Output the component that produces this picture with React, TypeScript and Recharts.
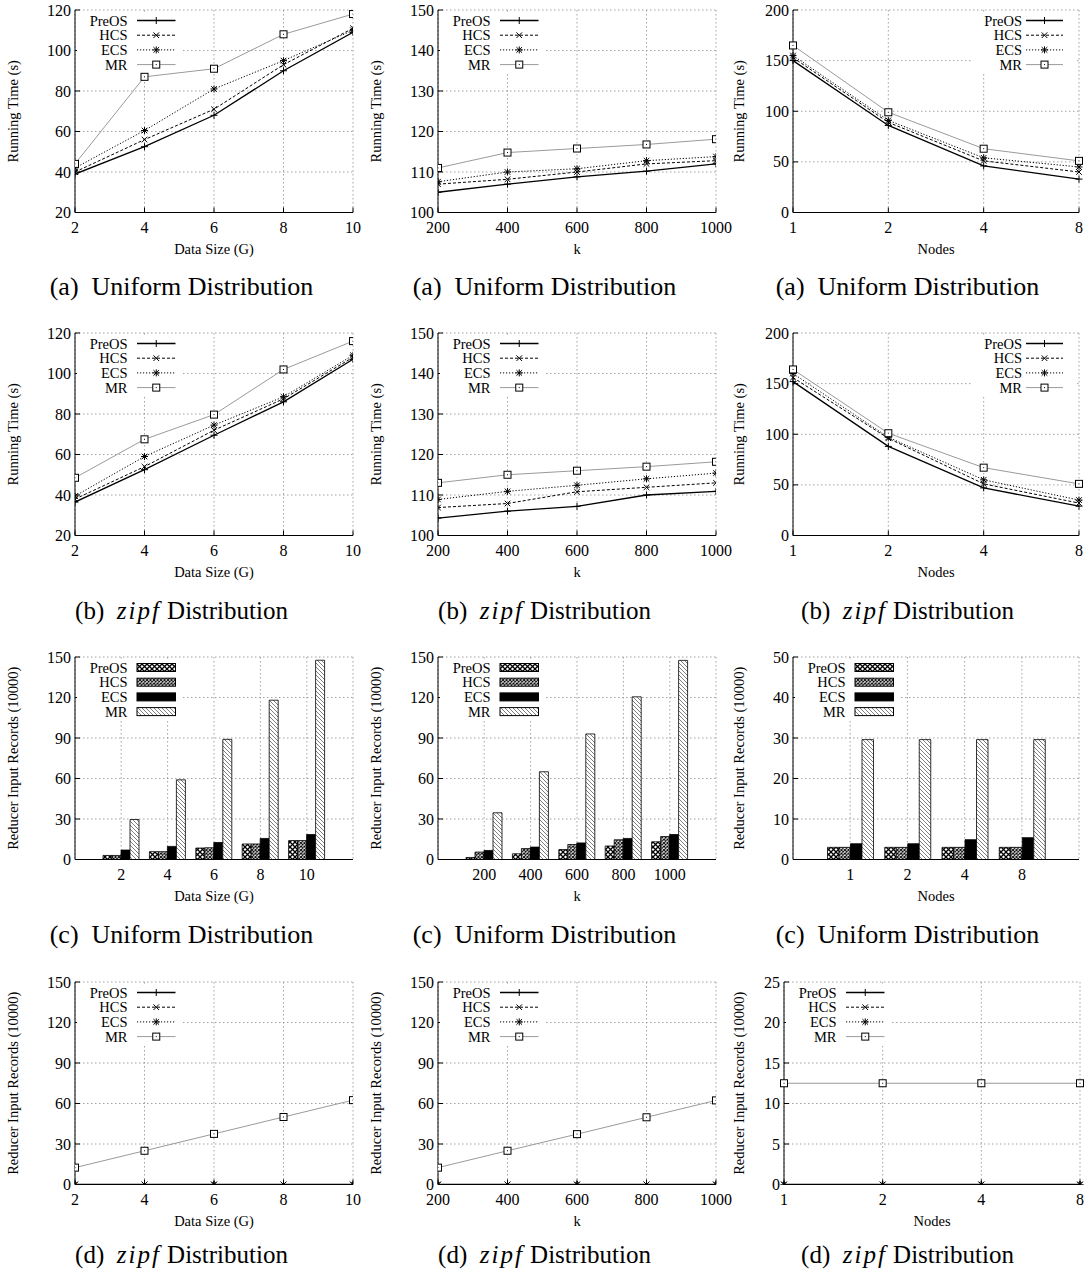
import React from 'react';
import { LineChart, Line, BarChart, Bar, XAxis, YAxis, CartesianGrid, Legend } from 'recharts';

const FONT = "'Liberation Serif', 'Times New Roman', Times, serif";

// x categories
const dataSizes = [2, 4, 6, 8, 10];
const kValues = [200, 400, 600, 800, 1000];
const nodeCounts = ['1', '2', '4', '8'];
const seriesNames = ['PreOS', 'HCS', 'ECS', 'MR'];

// (a) running time, uniform distribution
const uSizePreOS = [39, 52.5, 68, 90, 109];
const uSizeHCS = [40, 56, 71, 93, 111];
const uSizeECS = [42, 60.5, 81, 95, 110];
const uSizeMR = [44, 87, 91, 108, 118];

const uKPreOS = [105, 107, 108.8, 110.2, 112];
const uKHCS = [107, 108.2, 110, 112, 112.8];
const uKECS = [107.6, 110, 110.8, 112.8, 113.8];
const uKMR = [111, 114.8, 115.8, 116.8, 118.1];

const uNodePreOS = [150, 86, 46, 33];
const uNodeHCS = [153, 89, 51, 40];
const uNodeECS = [155, 91, 54, 45];
const uNodeMR = [165, 99, 63, 51];

// (b) running time, zipf distribution
const zSizePreOS = [36.5, 52.5, 69.5, 86, 107];
const zSizeHCS = [38, 54, 72, 87.5, 108];
const zSizeECS = [39.5, 59, 74.5, 88.5, 109];
const zSizeMR = [48.5, 67.5, 79.7, 102, 116];

const zKPreOS = [104.3, 106, 107.2, 110, 110.9];
const zKHCS = [106.9, 107.9, 110.8, 111.9, 113];
const zKECS = [108.9, 110.9, 112.4, 114, 115.4];
const zKMR = [113, 115, 116, 117, 118.2];

const zNodePreOS = [152, 88, 47, 29];
const zNodeHCS = [156, 96, 51, 32];
const zNodeECS = [160, 97, 55, 35];
const zNodeMR = [164, 101, 67, 51];

// (c) reducer input records, uniform distribution
const uSizeRecPreOS = [3, 5.8, 8.5, 11.5, 14];
const uSizeRecHCS = [3, 5.8, 8.7, 11.5, 14];
const uSizeRecECS = [7, 9.7, 12.6, 15.6, 18.5];
const uSizeRecMR = [29.6, 59, 89, 118, 147.6];

const uKRecPreOS = [1.5, 4.2, 7.4, 10, 13.1];
const uKRecHCS = [5.5, 8.1, 11.1, 14.6, 17];
const uKRecECS = [6.7, 9.2, 12.3, 15.6, 18.5];
const uKRecMR = [34.6, 65, 93, 120.5, 147.5];

const uNodeRecPreOS = [3, 3, 3, 3];
const uNodeRecHCS = [3, 3, 3, 3];
const uNodeRecECS = [3.9, 3.9, 4.9, 5.4];
const uNodeRecMR = [29.6, 29.6, 29.6, 29.6];

// (d) reducer input records, zipf distribution
const zSizeRecPreOS = [0, 0, 0, 0, 0];
const zSizeRecHCS = [0, 0, 0, 0, 0];
const zSizeRecECS = [0, 0, 0, 0, 0];
const zSizeRecMR = [12.5, 25, 37.5, 50, 62.5];

const zKRecPreOS = [0, 0, 0, 0, 0];
const zKRecHCS = [0, 0, 0, 0, 0];
const zKRecECS = [0, 0, 0, 0, 0];
const zKRecMR = [12.5, 25, 37.3, 49.8, 62.3];

const zNodeRecPreOS = [0, 0, 0, 0];
const zNodeRecHCS = [0, 0, 0, 0];
const zNodeRecECS = [0, 0, 0, 0];
const zNodeRecMR = [12.5, 12.5, 12.5, 12.5];

// axis ticks
const timeSizeTicks = [20, 40, 60, 80, 100, 120];
const timeKTicks = [100, 110, 120, 130, 140, 150];
const timeNodeTicks = [0, 50, 100, 150, 200];
const recTicks = [0, 30, 60, 90, 120, 150];
const recNodeTicks = [0, 10, 20, 30, 40, 50];
const recNodeZipfTicks = [0, 5, 10, 15, 20, 25];

type Row = { x: number | string; PreOS: number; HCS: number; ECS: number; MR: number };

function buildRows(xs: (number | string)[], pre: number[], hcs: number[], ecs: number[], mr: number[]): Row[] {
  return xs.map((x, i) => ({ x, PreOS: pre[i], HCS: hcs[i], ECS: ecs[i], MR: mr[i] }));
}

const COL_LEFT = [0, 363, 726];
const ROW_PLOT_TOP = [10, 333, 657, 982];
const CAPTION_Y = [287, 611, 935, 1255];
const PLOT_H = 202.5;
const AXIS_LINE = { stroke: '#000', strokeWidth: 1 };
const TICK_FONT = 16;

const lineStyle: Record<string, { stroke: string; dash?: string; width: number; marker: string }> = {
  PreOS: { stroke: '#000', width: 1.3, marker: 'plus' },
  HCS: { stroke: '#000', dash: '3 2', width: 1, marker: 'cross' },
  ECS: { stroke: '#000', dash: '1.2 1.8', width: 1, marker: 'star' },
  MR: { stroke: '#9a9a9a', width: 1, marker: 'box' },
};

const barFill: Record<string, string> = {
  PreOS: 'url(#patPre)',
  HCS: 'url(#patHcs)',
  ECS: '#000',
  MR: 'url(#patMr)',
};

function Marker({ kind, cx, cy }: { kind: string; cx: number; cy: number }) {
  if (cx == null || cy == null) return null;
  const s = 3.5;
  const d = 2.8;
  const plus = (
    <>
      <line x1={cx - s} x2={cx + s} y1={cy} y2={cy} />
      <line x1={cx} x2={cx} y1={cy - s} y2={cy + s} />
    </>
  );
  const cross = (
    <>
      <line x1={cx - d} x2={cx + d} y1={cy - d} y2={cy + d} />
      <line x1={cx - d} x2={cx + d} y1={cy + d} y2={cy - d} />
    </>
  );
  if (kind === 'plus') return <g stroke="#000" strokeWidth={1}>{plus}</g>;
  if (kind === 'cross') return <g stroke="#000" strokeWidth={1}>{cross}</g>;
  if (kind === 'star') return <g stroke="#000" strokeWidth={1}>{plus}{cross}</g>;
  return (
    <g>
      <rect x={cx - 3.5} y={cy - 3.5} width={7} height={7} fill="#fff" stroke="#000" strokeWidth={1} />
      <rect x={cx - 0.5} y={cy - 0.5} width={1} height={1} fill="#000" />
    </g>
  );
}

const XTick = (props: any) => {
  const { x, y, payload, side } = props;
  if (side === 'top') return <line x1={x} x2={x} y1={y} y2={y + 5} stroke="#000" />;
  return (
    <g>
      <line x1={x} x2={x} y1={y} y2={y - 5} stroke="#000" />
      <text x={x} y={y + 20} textAnchor="middle" fontSize={TICK_FONT} fontFamily={FONT} fill="#000">
        {payload.value}
      </text>
    </g>
  );
};

const YTick = (props: any) => {
  const { x, y, payload, side } = props;
  if (side === 'right') return <line x1={x} x2={x - 5} y1={y} y2={y} stroke="#000" />;
  return (
    <g>
      <line x1={x} x2={x + 5} y1={y} y2={y} stroke="#000" />
      <text x={x - 4} y={y + 5.5} textAnchor="end" fontSize={TICK_FONT} fontFamily={FONT} fill="#000">
        {payload.value}
      </text>
    </g>
  );
};

function LegendBox({ kind, right }: { kind: 'line' | 'bar'; right?: boolean }) {
  const textX = right ? 51 : 50.5;
  const s0 = right ? 55 : 60;
  const s1 = right ? 92 : 98.5;
  return (
    <svg width={106} height={60} style={{ display: 'block' }}>
      {seriesNames.map((n, i) => {
        const cy = 8.5 + i * 14.7;
        const st = lineStyle[n];
        return (
          <g key={n}>
            <text x={textX} y={cy + 5} textAnchor="end" fontSize={14.5} fontFamily={FONT} fill="#000">
              {n}
            </text>
            {kind === 'line' ? (
              <>
                <line x1={s0} x2={s1} y1={cy} y2={cy} stroke={st.stroke} strokeWidth={st.width} strokeDasharray={st.dash} />
                <Marker kind={st.marker} cx={(s0 + s1) / 2} cy={cy} />
              </>
            ) : (
              <rect x={s0} y={cy - 4} width={s1 - s0} height={8} fill={barFill[n]} stroke="#000" strokeWidth={1} />
            )}
          </g>
        );
      })}
    </svg>
  );
}

function Caption({ row, col, tag, dist }: { row: number; col: number; tag: string; dist: string }) {
  return (
    <div
      style={{
        position: 'absolute',
        left: COL_LEFT[col],
        top: CAPTION_Y[row] - 15,
        width: 363,
        textAlign: 'center',
        fontFamily: FONT,
        fontSize: dist === 'zipf' ? 25 : 26,
        lineHeight: '30px',
        color: '#000',
        whiteSpace: 'nowrap',
      }}
    >
      ({tag})&nbsp;&nbsp;
      {dist === 'zipf' ? <span style={{ fontStyle: 'italic', letterSpacing: '2px' }}>zipf</span> : 'Uniform'} Distribution
    </div>
  );
}

interface PanelProps {
  row: number;
  col: number;
  yw: number;
  pw: number;
  data: Row[];
  xKind: 'num' | 'cat';
  xDomain?: [number, number];
  xTicks?: number[];
  yDomain: [number, number];
  yTicks: number[];
  xTitle: string;
  yTitle: string;
  legendRight?: boolean;
  pad?: number;
  barSize?: number;
}

function titles(p: PanelProps) {
  const yTitle = (
    <text
      x={18}
      y={10 + PLOT_H / 2}
      transform={`rotate(-90, 18, ${10 + PLOT_H / 2})`}
      textAnchor="middle"
      fontSize={14.5}
      fontFamily={FONT}
      fill="#000"
    >
      {p.yTitle}
    </text>
  );
  const xTitle = (
    <text x={p.yw + p.pw / 2} y={10 + PLOT_H + 41} textAnchor="middle" fontSize={14.5} fontFamily={FONT} fill="#000">
      {p.xTitle}
    </text>
  );
  return { yTitle, xTitle };
}

// extra room on the right so the last tick label ("1000", "10") is not clipped
function frame(p: PanelProps) {
  const extra = p.col < 2 ? 24 : 0;
  return { width: 363 + extra, right: 363 - p.yw - p.pw + extra };
}

function LinePanel(p: PanelProps) {
  const top = ROW_PLOT_TOP[p.row] - 10;
  const left = COL_LEFT[p.col];
  const height = 10 + PLOT_H + 50;
  const { width, right } = frame(p);
  const legendLeft = p.legendRight ? p.yw + p.pw - 108 : p.yw + 1.5;
  const xCommon: any =
    p.xKind === 'num'
      ? { type: 'number', domain: p.xDomain, ticks: p.xTicks, allowDataOverflow: true }
      : { type: 'category', scale: 'point', padding: { left: 0, right: 0 } };
  const t = titles(p);
  return (
    <div style={{ position: 'absolute', left, top }}>
      <LineChart width={width} height={height} data={p.data} margin={{ top: 10, right, bottom: 0, left: 0 }}>
        <CartesianGrid stroke="#8a8a8a" strokeWidth={0.8} strokeDasharray="1.5 2.5" />
        <XAxis dataKey="x" {...xCommon} height={50} interval={0} tickSize={0} tickMargin={0} tickLine={false}
          axisLine={AXIS_LINE} tick={<XTick side="bottom" />} label={{ content: () => t.xTitle }} />
        <XAxis xAxisId="top" orientation="top" dataKey="x" {...xCommon} height={0} interval={0} tickSize={0}
          tickMargin={0} tickLine={false} axisLine={AXIS_LINE} tick={<XTick side="top" />} />
        <YAxis type="number" domain={p.yDomain} ticks={p.yTicks} allowDataOverflow width={p.yw} interval={0}
          tickSize={0} tickMargin={0} tickLine={false} axisLine={AXIS_LINE} tick={<YTick side="left" />}
          label={{ content: () => t.yTitle }} />
        <YAxis yAxisId="r" orientation="right" type="number" domain={p.yDomain} ticks={p.yTicks} allowDataOverflow
          width={0} interval={0} tickSize={0} tickMargin={0} tickLine={false} axisLine={AXIS_LINE}
          tick={<YTick side="right" />} />
        <Legend layout="horizontal" verticalAlign="middle" align="center"
          wrapperStyle={{ position: 'absolute', left: legendLeft, top: 11.5, width: 106, height: 60, background: '#fff', margin: 0, padding: 0 }}
          content={() => <LegendBox kind="line" right={p.legendRight} />} />
        {seriesNames.map((n) => {
          const st = lineStyle[n];
          return (
            <Line key={n} dataKey={n} type="linear" stroke={st.stroke} strokeWidth={st.width} strokeDasharray={st.dash}
              isAnimationActive={false} activeDot={false}
              dot={(d: any) => <Marker key={`${n}-${d.index}`} kind={st.marker} cx={d.cx} cy={d.cy} />} />
          );
        })}
      </LineChart>
    </div>
  );
}

function BarPanel(p: PanelProps) {
  const top = ROW_PLOT_TOP[p.row] - 10;
  const left = COL_LEFT[p.col];
  const height = 10 + PLOT_H + 50;
  const { width, right } = frame(p);
  const pad = p.pad ?? 23;
  const t = titles(p);
  return (
    <div style={{ position: 'absolute', left, top }}>
      <BarChart width={width} height={height} data={p.data} margin={{ top: 10, right, bottom: 0, left: 0 }}
        barGap={0} barSize={p.barSize ?? 9}>
        <CartesianGrid stroke="#8a8a8a" strokeWidth={0.8} strokeDasharray="1.5 2.5" />
        <XAxis dataKey="x" type="category" padding={{ left: pad, right: pad }} height={50} interval={0} tickSize={0}
          tickMargin={0} tickLine={false} axisLine={AXIS_LINE} tick={<XTick side="bottom" />}
          label={{ content: () => t.xTitle }} />
        <XAxis xAxisId="top" orientation="top" dataKey="x" type="category" padding={{ left: pad, right: pad }}
          height={0} interval={0} tickSize={0} tickMargin={0} tickLine={false} axisLine={AXIS_LINE}
          tick={<XTick side="top" />} />
        <YAxis type="number" domain={p.yDomain} ticks={p.yTicks} allowDataOverflow width={p.yw} interval={0}
          tickSize={0} tickMargin={0} tickLine={false} axisLine={AXIS_LINE} tick={<YTick side="left" />}
          label={{ content: () => t.yTitle }} />
        <YAxis yAxisId="r" orientation="right" type="number" domain={p.yDomain} ticks={p.yTicks} allowDataOverflow
          width={0} interval={0} tickSize={0} tickMargin={0} tickLine={false} axisLine={AXIS_LINE}
          tick={<YTick side="right" />} />
        <Legend layout="horizontal" verticalAlign="middle" align="center"
          wrapperStyle={{ position: 'absolute', left: p.yw + 1.5, top: 11.5, width: 106, height: 60, background: '#fff', margin: 0, padding: 0 }}
          content={() => <LegendBox kind="bar" />} />
        {seriesNames.map((n) => (
          <Bar key={n} dataKey={n} fill={barFill[n]} stroke="#000" strokeWidth={0.8} isAnimationActive={false} />
        ))}
      </BarChart>
    </div>
  );
}

const TIME = 'Running Time (s)';
const REC = 'Reducer Input Records (10000)';

export default function App() {
  return (
    <div style={{ position: 'absolute', left: 0, top: 0, width: 1089, height: 1276, background: '#fff', overflow: 'hidden' }}>
      <svg width={0} height={0} style={{ position: 'absolute' }}>
        <defs>
          <pattern id="patPre" patternUnits="userSpaceOnUse" width={5} height={5}>
            <rect width={5} height={5} fill="#fff" />
            <path d="M0,0 L5,5 M5,0 L0,5" stroke="#000" strokeWidth={1.3} />
          </pattern>
          <pattern id="patHcs" patternUnits="userSpaceOnUse" width={3.5} height={3.5}>
            <rect width={3.5} height={3.5} fill="#fff" />
            <path d="M0,0 L3.5,3.5 M3.5,0 L0,3.5" stroke="#000" strokeWidth={1} />
          </pattern>
          <pattern id="patMr" patternUnits="userSpaceOnUse" width={4} height={4}>
            <rect width={4} height={4} fill="#fff" />
            <path d="M0,0 L4,4 M-1,3 L1,5 M3,-1 L5,1" stroke="#707070" strokeWidth={0.9} />
          </pattern>
        </defs>
      </svg>

      {/* row (a) */}
      <LinePanel row={0} col={0} yw={75} pw={278} xKind="num" xDomain={[2, 10]} xTicks={dataSizes}
        data={buildRows(dataSizes, uSizePreOS, uSizeHCS, uSizeECS, uSizeMR)}
        yDomain={[20, 120]} yTicks={timeSizeTicks} xTitle="Data Size (G)" yTitle={TIME} />
      <LinePanel row={0} col={1} yw={75} pw={278} xKind="num" xDomain={[200, 1000]} xTicks={kValues}
        data={buildRows(kValues, uKPreOS, uKHCS, uKECS, uKMR)}
        yDomain={[100, 150]} yTicks={timeKTicks} xTitle="k" yTitle={TIME} />
      <LinePanel row={0} col={2} yw={67} pw={286} xKind="cat" legendRight
        data={buildRows(nodeCounts, uNodePreOS, uNodeHCS, uNodeECS, uNodeMR)}
        yDomain={[0, 200]} yTicks={timeNodeTicks} xTitle="Nodes" yTitle={TIME} />

      {/* row (b) */}
      <LinePanel row={1} col={0} yw={75} pw={278} xKind="num" xDomain={[2, 10]} xTicks={dataSizes}
        data={buildRows(dataSizes, zSizePreOS, zSizeHCS, zSizeECS, zSizeMR)}
        yDomain={[20, 120]} yTicks={timeSizeTicks} xTitle="Data Size (G)" yTitle={TIME} />
      <LinePanel row={1} col={1} yw={75} pw={278} xKind="num" xDomain={[200, 1000]} xTicks={kValues}
        data={buildRows(kValues, zKPreOS, zKHCS, zKECS, zKMR)}
        yDomain={[100, 150]} yTicks={timeKTicks} xTitle="k" yTitle={TIME} />
      <LinePanel row={1} col={2} yw={67} pw={286} xKind="cat" legendRight
        data={buildRows(nodeCounts, zNodePreOS, zNodeHCS, zNodeECS, zNodeMR)}
        yDomain={[0, 200]} yTicks={timeNodeTicks} xTitle="Nodes" yTitle={TIME} />

      {/* row (c) */}
      <BarPanel row={2} col={0} yw={75} pw={278} xKind="cat" pad={23}
        data={buildRows(dataSizes, uSizeRecPreOS, uSizeRecHCS, uSizeRecECS, uSizeRecMR)}
        yDomain={[0, 150]} yTicks={recTicks} xTitle="Data Size (G)" yTitle={REC} />
      <BarPanel row={2} col={1} yw={75} pw={278} xKind="cat" pad={23}
        data={buildRows(kValues, uKRecPreOS, uKRecHCS, uKRecECS, uKRecMR)}
        yDomain={[0, 150]} yTicks={recTicks} xTitle="k" yTitle={REC} />
      <BarPanel row={2} col={2} yw={67} pw={286} xKind="cat" pad={28.5} barSize={11.5}
        data={buildRows(nodeCounts, uNodeRecPreOS, uNodeRecHCS, uNodeRecECS, uNodeRecMR)}
        yDomain={[0, 50]} yTicks={recNodeTicks} xTitle="Nodes" yTitle={REC} />

      {/* row (d) */}
      <LinePanel row={3} col={0} yw={75} pw={278} xKind="num" xDomain={[2, 10]} xTicks={dataSizes}
        data={buildRows(dataSizes, zSizeRecPreOS, zSizeRecHCS, zSizeRecECS, zSizeRecMR)}
        yDomain={[0, 150]} yTicks={recTicks} xTitle="Data Size (G)" yTitle={REC} />
      <LinePanel row={3} col={1} yw={75} pw={278} xKind="num" xDomain={[200, 1000]} xTicks={kValues}
        data={buildRows(kValues, zKRecPreOS, zKRecHCS, zKRecECS, zKRecMR)}
        yDomain={[0, 150]} yTicks={recTicks} xTitle="k" yTitle={REC} />
      <LinePanel row={3} col={2} yw={58} pw={296} xKind="cat"
        data={buildRows(nodeCounts, zNodeRecPreOS, zNodeRecHCS, zNodeRecECS, zNodeRecMR)}
        yDomain={[0, 25]} yTicks={recNodeZipfTicks} xTitle="Nodes" yTitle={REC} />

      {[0, 1, 2].map((c) => (
        <React.Fragment key={c}>
          <Caption row={0} col={c} tag="a" dist="uniform" />
          <Caption row={1} col={c} tag="b" dist="zipf" />
          <Caption row={2} col={c} tag="c" dist="uniform" />
          <Caption row={3} col={c} tag="d" dist="zipf" />
        </React.Fragment>
      ))}
    </div>
  );
}
